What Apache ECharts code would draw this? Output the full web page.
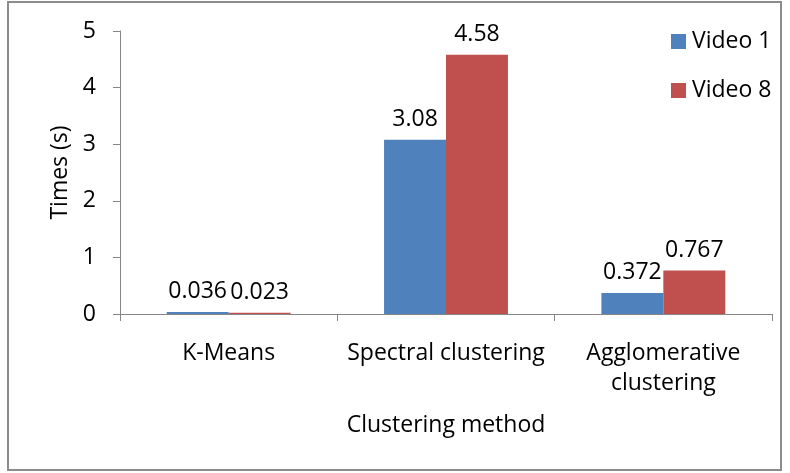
<!DOCTYPE html>
<html><head><meta charset="utf-8">
<script src="https://cdn.jsdelivr.net/npm/echarts@6/dist/echarts.min.js"></script>
<style>html,body{margin:0;padding:0;background:#fff}#c{width:790px;height:473px}</style>
</head><body><div id="c"></div>
<script>
const categories = ['K-Means', 'Spectral clustering', 'Agglomerative\nclustering'];
const video1 = [0.036, 3.08, 0.372];
const video8 = [0.023, 4.58, 0.767];
const seriesNames = ['Video 1', 'Video 8'];
const yTicks = [0, 1, 2, 3, 4, 5];

const FONT = '"Open Sans", "Liberation Sans", sans-serif';
const FS = 23;
const chart = echarts.init(document.getElementById('c'), null, {renderer: 'canvas'});
const labelCfg = {show: true, position: 'top', distance: 9, color: '#000', fontFamily: FONT, fontSize: FS};
chart.setOption({
  animation: false,
  textStyle: {fontFamily: FONT},
  graphic: [{type: 'rect', shape: {x: 8, y: 2, width: 773, height: 468}, style: {fill: 'none', stroke: '#8c8c8c', lineWidth: 2}}],
  grid: {left: 120, right: 18, top: 31, bottom: 159},
  legend: {
    orient: 'vertical', left: 671, top: 30, padding: 0, itemWidth: 15, itemHeight: 15, itemGap: 26,
    icon: 'rect', textStyle: {fontFamily: FONT, fontSize: FS, color: '#000', padding: [0,0,0,1]},
    data: seriesNames
  },
  xAxis: {
    type: 'category', data: categories,
    name: 'Clustering method', nameLocation: 'middle', nameGap: 100,
    nameTextStyle: {fontFamily: FONT, fontSize: FS, color: '#000'},
    axisLine: {lineStyle: {color: '#868686', width: 1}},
    axisTick: {show: true, length: 7, lineStyle: {color: '#868686'}, alignWithLabel: false},
    axisLabel: {color: '#000', fontFamily: FONT, fontSize: FS, margin: 24, lineHeight: 30, interval: 0}
  },
  yAxis: {
    type: 'value', min: yTicks[0], max: yTicks[yTicks.length-1], interval: 1,
    name: 'Times (s)', nameLocation: 'middle', nameGap: 48,
    nameTextStyle: {fontFamily: FONT, fontSize: FS, color: '#000'},
    splitLine: {show: false},
    axisLine: {show: true, lineStyle: {color: '#868686', width: 1}},
    axisTick: {show: true, length: 7, lineStyle: {color: '#868686'}},
    axisLabel: {color: '#000', fontFamily: FONT, fontSize: FS, margin: 24}
  },
  series: [
    {name: seriesNames[0], type: 'bar', data: video1, barGap: '0%', barCategoryGap: '43%',
     itemStyle: {color: '#4F81BD'}, label: labelCfg},
    {name: seriesNames[1], type: 'bar', data: video8, barGap: '0%', barCategoryGap: '43%',
     itemStyle: {color: '#C0504D'}, label: labelCfg}
  ]
});
</script></body></html>
